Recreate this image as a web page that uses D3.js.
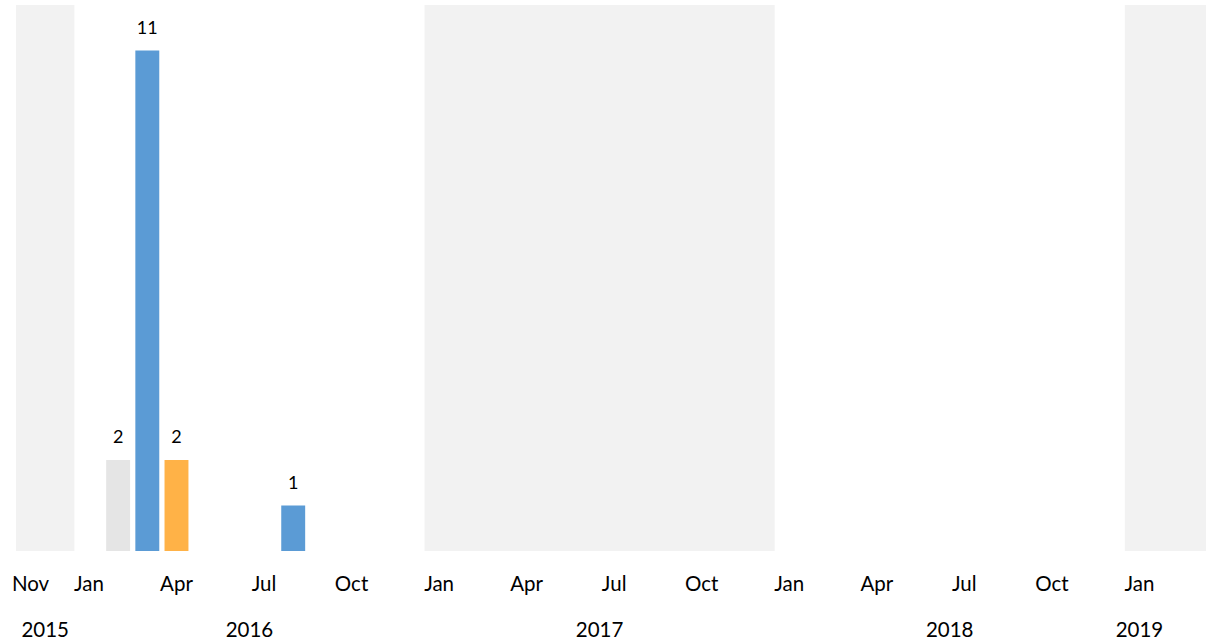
<!DOCTYPE html>
<html>
<head>
<meta charset="utf-8">
<script src="https://cdn.jsdelivr.net/npm/d3@7"></script>
<style>
  html, body { margin: 0; padding: 0; background: #fff; }
  svg { display: block; font-family: Lato, "Open Sans", sans-serif; }
</style>
</head>
<body>
<svg id="chart" width="1206" height="640"></svg>
<script>
// ---- data ----
const startMonth = "2015-11";
const endMonth = "2019-01";          // last month on the axis (inclusive)
const barMonths = ["2016-02", "2016-03", "2016-04", "2016-08"];
const barValues = [2, 11, 2, 1];
const barSeries = ["Series 1", "Series 2", "Series 3", "Series 2"];
const seriesNames = ["Series 1", "Series 2", "Series 3"];
const monthNames = ["Jan","Feb","Mar","Apr","May","Jun","Jul","Aug","Sep","Oct","Nov","Dec"];
const shadedYears = [2015, 2017, 2019];
const yMax = 12;

// ---- layout ----
const chartW = 1206;
const plotLeft = 16, plotBase = 551, plotTop = 5;
const monthW = 1138 / 39;

const svg = d3.select("#chart");

const parse = d3.timeParse("%Y-%m");
const fmt = d3.timeFormat("%Y-%m");
const months = d3.timeMonth.range(parse(startMonth), d3.timeMonth.offset(parse(endMonth), 1)).map(fmt);

const x = d3.scaleBand().domain(months).range([plotLeft, plotLeft + monthW * months.length]).padding(0);
const y = d3.scaleLinear().domain([0, yMax]).range([plotBase, plotTop]);
const color = d3.scaleOrdinal().domain(seriesNames).range(["#E5E5E5", "#5B9BD5", "#FFB247"]);

const years = d3.groups(months, m => +m.slice(0, 4));
const yearInfo = years.map(([yr, ms]) => ({
  year: yr,
  x0: x(ms[0]),
  x1: x(ms[ms.length - 1]) + x.bandwidth()
}));

// shaded bands
svg.append("g").selectAll("rect")
  .data(yearInfo.filter(d => shadedYears.includes(d.year)))
  .join("rect")
  .attr("x", d => d.x0)
  .attr("y", y(yMax))
  .attr("width", d => (d.year === d3.max(shadedYears) ? chartW : d.x1) - d.x0)
  .attr("height", y(0) - y(yMax))
  .attr("fill", "#F2F2F2");

// bars
const barFrac = 0.82;
const bars = barMonths.map((m, i) => ({ m, v: barValues[i], s: barSeries[i] }));
svg.append("g").selectAll("rect")
  .data(bars)
  .join("rect")
  .attr("x", d => x(d.m) + x.bandwidth() * (1 - barFrac) / 2)
  .attr("width", x.bandwidth() * barFrac)
  .attr("y", d => y(d.v))
  .attr("height", d => y(0) - y(d.v))
  .attr("fill", d => color(d.s));

// data labels
svg.append("g").selectAll("text")
  .data(bars)
  .join("text")
  .attr("x", d => x(d.m) + x.bandwidth() / 2)
  .attr("y", d => y(d.v) - 17)
  .attr("text-anchor", "middle")
  .attr("font-size", 18)
  .attr("fill", "#000")
  .text(d => d.v);

// month axis labels
const tickMonths = months.filter((m, i) => i === 0 || (+m.slice(5) - 1) % 3 === 0);
svg.append("g").selectAll("text")
  .data(tickMonths)
  .join("text")
  .attr("x", d => x(d) + x.bandwidth() / 2)
  .attr("y", 591)
  .attr("text-anchor", "middle")
  .attr("font-size", 20.5)
  .attr("fill", "#000")
  .text(d => monthNames[+d.slice(5) - 1]);

// year labels
svg.append("g").selectAll("text")
  .data(yearInfo)
  .join("text")
  .attr("x", d => (d.x0 + d.x1) / 2)
  .attr("y", 637)
  .attr("text-anchor", "middle")
  .attr("font-size", 20.5)
  .attr("fill", "#000")
  .text(d => d.year);
</script>
</body>
</html>
